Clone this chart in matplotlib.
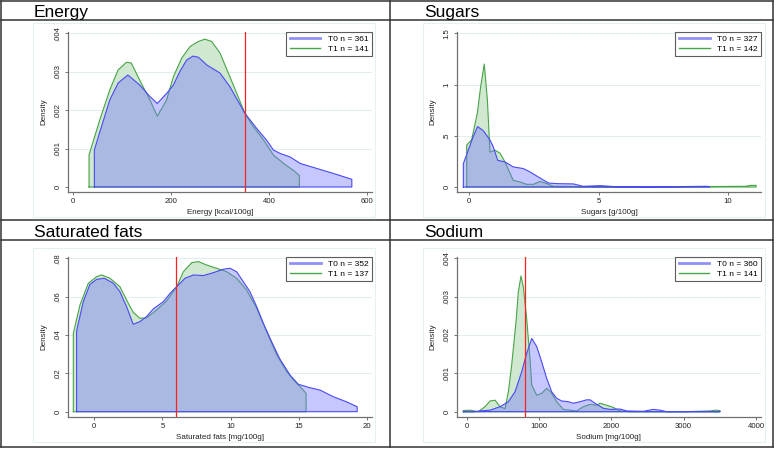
"""
Kernel density of nutrient content, T0 vs T1 -- four Stata-style panels.
"""

import numpy as np
import matplotlib.pyplot as plt
from matplotlib.lines import Line2D
from matplotlib.patches import Rectangle

plt.rcParams["font.family"] = ["Liberation Sans", "DejaVu Sans"]

# -- Data ----------------------------------------------------------------------
energy_t0_x = [43.6, 54, 75, 92, 112, 136, 157, 172, 191, 205, 218, 232, 245, 256,
               273, 300, 320, 351, 375, 395, 409, 423, 443, 464, 498, 532, 569]
energy_t0_y = [.00096, .0014, .00226, .0027, .00291, .00265, .00235, .00217, .00243,
               .00265, .0030, .0033, .0034, .00337, .00317, .00296, .00261, .00191,
               .00152, .00122, .00096, .00087, .00078, .00061, .00048, .00035, .0002]
energy_t1_x = [32.7, 54.5, 75, 92, 109, 119, 136, 157, 172, 191, 205, 222, 239, 256,
               269, 283, 300, 320, 341, 351, 368, 389, 409, 430, 450, 462]
energy_t1_y = [.00083, .00174, .00252, .00304, .00324, .00322, .00278, .00226, .00184,
               .00226, .00287, .00335, .00365, .00378, .00384, .00378, .00348, .00287,
               .00222, .00191, .00157, .00122, .00083, .00061, .00043, .0003]

sugars_t0_x = [-0.23, -0.04, 0.15, 0.32, 0.54, 0.8, 0.93, 1.1, 1.38, 1.7, 2.09, 2.35,
               2.67, 3.06, 3.38, 4.03, 4.4, 5.06, 5.7, 7.0, 9.2, 9.3]
sugars_t0_y = [0.228, 0.36, 0.49, 0.59, 0.55, 0.46, 0.39, 0.26, 0.245, 0.196, 0.18,
               0.147, 0.098, 0.039, 0.033, 0.03, 0.007, 0.013, 0.003, 0.001, 0.007, 0.002]
sugars_t1_x = [-0.1, 0.09, 0.31, 0.44, 0.58, 0.7, 0.8, 0.99, 1.19, 1.38, 1.7, 1.96,
               2.22, 2.48, 2.74, 3.0, 3.25, 5.0, 8.0, 10.7, 10.9, 11.1]
sugars_t1_y = [0.41, 0.46, 0.72, 0.98, 1.2, 0.85, 0.34, 0.36, 0.33, 0.245, 0.065,
               0.049, 0.026, 0.026, 0.055, 0.033, 0.007, 0.002, 0.002, 0.007, 0.016, 0.016]

satfat_t0_x = [-1.3, -0.81, -0.32, 0.17, 0.73, 1.4, 1.88, 2.37, 2.86, 3.35, 3.84, 4.33,
               5.07, 5.56, 6.05, 6.66, 7.27, 8.0, 8.74, 9.47, 9.96, 10.45, 10.94, 11.43,
               11.92, 12.41, 13.02, 13.6, 14.37, 14.98, 15.84, 16.57, 17.55, 18.5, 19.3]
satfat_t0_y = [.0421, .0574, .0664, .069, .0696, .067, .0626, .0548, .0456, .047, .0496,
               .0536, .0574, .0617, .0652, .0696, .0713, .071, .0725, .0743, .0748, .073,
               .0678, .0626, .0548, .0461, .0365, .0278, .0191, .0143, .0125, .0113,
               .0078, .0052, .0026]
satfat_t1_x = [-1.54, -1.05, -0.44, 0.17, 0.54, 1.15, 1.88, 2.5, 2.86, 3.35, 3.84, 4.57,
               5.3, 6.05, 6.54, 7.15, 7.64, 8.25, 8.98, 9.72, 10.45, 11.18, 11.92, 12.66,
               13.4, 14.13, 14.74, 15.23, 15.55]
satfat_t1_y = [.0409, .0557, .067, .0704, .0713, .0696, .0652, .0565, .0518, .0487, .049,
               .053, .0577, .0652, .073, .0777, .0783, .0765, .0748, .073, .0696, .0635,
               .054, .0417, .0296, .0209, .0157, .0122, .0096]

sodium_t0_x = [-46, 100, 184, 323, 461, 576, 668, 760, 829, 899, 968, 1037, 1106, 1175,
               1244, 1313, 1406, 1475, 1567, 1659, 1705, 1774, 1889, 1982, 2120, 2212,
               2442, 2581, 2673, 2765, 3000, 3502]
sodium_t0_y = [0, 0, .00002, .00004, .00013, .00026, .00052, .00104, .00152, .00191,
               .0017, .0013, .00087, .00052, .00035, .00028, .00026, .00022, .00026,
               .00031, .00031, .00022, .00009, .00006, .00007, .00002, .00001, .00006,
               .00004, 0, 0, 0]
sodium_t1_x = [-46, 46, 161, 253, 323, 392, 461, 530, 576, 622, 682, 714, 751, 783, 829,
               875, 899, 968, 1037, 1106, 1175, 1244, 1336, 1521, 1613, 1705, 1797,
               1843, 1936, 2028, 2120, 2258, 3000, 3364, 3433, 3502]
sodium_t1_y = [.00003, .00004, 0, .00013, .00028, .0003, .00013, .00008, .00052, .00122,
               .00235, .00313, .00354, .00326, .00243, .00139, .0007, .00043, .00048,
               .00061, .00048, .00026, .00006, .00002, .00013, .00019, .00017, .00022,
               .00017, .00011, .00002, 0, 0, .00002, .00004, .00003]

# -- Panel layout (pixels in a 780x451 canvas) ---------------------------------
W, H = 780, 451
PANELS = [
    dict(title="Energy", xlabel="Energy [kcal/100g]",
         t0=(energy_t0_x, energy_t0_y), t1=(energy_t1_x, energy_t1_y),
         n0=361, n1=141, cutoff=350,
         xticks=[0, 200, 400, 600], xlab=["0", "200", "400", "600"],
         yticks=[0, .001, .002, .003, .004], ylab=["0", ".001", ".002", ".003", ".004"],
         box=(68, 372, 32, 192), xref=((0, 73), (600, 367)), yref=((0, 187), (.004, 33)),
         frame=(33, 375, 23, 217), title_xy=(34, 17)),
    dict(title="Sugars", xlabel="Sugars [g/100g]",
         t0=(sugars_t0_x, sugars_t0_y), t1=(sugars_t1_x, sugars_t1_y),
         n0=327, n1=142, cutoff=None,
         xticks=[0, 5, 10], xlab=["0", "5", "10"],
         yticks=[0, .5, 1, 1.5], ylab=["0", ".5", "1", "1.5"],
         box=(457, 761, 32, 192), xref=((0, 469.3), (10, 727.7)), yref=((0, 187), (1.5, 33.3)),
         frame=(423, 765, 23, 217), title_xy=(424, 17)),
    dict(title="Saturated fats", xlabel="Saturated fats [mg/100g]",
         t0=(satfat_t0_x, satfat_t0_y), t1=(satfat_t1_x, satfat_t1_y),
         n0=352, n1=137, cutoff=6,
         xticks=[0, 5, 10, 15, 20], xlab=["0", "5", "10", "15", "20"],
         yticks=[0, .02, .04, .06, .08], ylab=["0", ".02", ".04", ".06", ".08"],
         box=(68, 372, 257, 417), xref=((0, 94.3), (20, 366.7)), yref=((0, 411.7), (.08, 258.3)),
         frame=(33, 375, 248, 442), title_xy=(34, 237)),
    dict(title="Sodium", xlabel="Sodium [mg/100g]",
         t0=(sodium_t0_x, sodium_t0_y), t1=(sodium_t1_x, sodium_t1_y),
         n0=360, n1=141, cutoff=800,
         xticks=[0, 1000, 2000, 3000, 4000], xlab=["0", "1000", "2000", "3000", "4000"],
         yticks=[0, .001, .002, .003, .004], ylab=["0", ".001", ".002", ".003", ".004"],
         box=(456.7, 761, 257, 417), xref=((0, 466.7), (4000, 756)), yref=((0, 411.7), (.004, 258.3)),
         frame=(423, 765, 248, 442), title_xy=(424, 237)),
]

T0_LINE, T0_FILL = "#4a4af2", (0.45, 0.45, 1.0, 0.40)
T1_LINE, T1_FILL = "#48a448", "#cfe8cf"
CUT_COLOR = "#ff2020"
BORDER = "#333333"
AXIS_C = "#707070"
GRID_C = "#e3edef"
TICK_FS = 5.6


def fx(x):
    return x / W


def fy(y):
    return 1 - y / H


def limits(ref, lo_px, hi_px, flip=False):
    (v0, p0), (v1, p1) = ref
    if flip:  # pixel y grows downward
        s = (p0 - p1) / (v1 - v0)
        return v0 - (lo_px - p0) / s, v0 + (p0 - hi_px) / s
    s = (p1 - p0) / (v1 - v0)
    return v0 + (lo_px - p0) / s, v0 + (hi_px - p0) / s


def draw_density(ax, x, y, face, edge, lw, z):
    x = np.asarray(x, float)
    y = np.asarray(y, float)
    px = np.r_[x[0], x, x[-1], x[0]]
    py = np.r_[0, y, 0, 0]
    ax.fill(px, py, facecolor=face, edgecolor="none", zorder=z)
    ax.plot(px, py, color=edge, lw=lw, zorder=z + 0.1, solid_joinstyle="round")


def plot_panel(fig, p):
    L, R, T, B = p["box"]
    ax = fig.add_axes([fx(L), fy(B), fx(R - L), (B - T) / H])
    ax.set_xlim(*limits(p["xref"], L, R))
    ax.set_ylim(*limits(p["yref"], B, T, flip=True))

    # T1 first, then T0 translucent on top (greens under blue look greyish)
    draw_density(ax, *p["t1"], T1_FILL, T1_LINE, 0.8, 2.0)
    draw_density(ax, *p["t0"], T0_FILL, T0_LINE, 0.8, 2.5)
    if p["cutoff"] is not None:
        ax.axvline(p["cutoff"], color=CUT_COLOR, lw=0.9, zorder=3)

    ax.set_xticks(p["xticks"])
    ax.set_xticklabels(p["xlab"], fontsize=TICK_FS)
    ax.set_yticks(p["yticks"])
    ax.set_yticklabels(p["ylab"], fontsize=TICK_FS, rotation=90, va="center")
    for g in p["yticks"][1:]:
        ax.axhline(g, color=GRID_C, lw=0.8, zorder=1)

    for side in ("top", "right"):
        ax.spines[side].set_visible(False)
    for side in ("left", "bottom"):
        ax.spines[side].set_color(AXIS_C)
        ax.spines[side].set_linewidth(0.9)
    ax.tick_params(direction="out", length=2.5, width=0.7, color=AXIS_C,
                   pad=2, labelcolor="#222222")
    ax.set_xlabel(p["xlabel"], fontsize=5.8, labelpad=3, color="#222222")
    ax.set_ylabel("Density", fontsize=5.8, labelpad=5, color="#222222")
    ax.patch.set_alpha(0)

    handles = [Line2D([], [], color="#8f8ff4", lw=2.0),
               Line2D([], [], color=T1_LINE, lw=1.0)]
    leg = ax.legend(handles, [f"T0 n = {p['n0']}", f"T1 n = {p['n1']}"],
                    loc="upper right", bbox_to_anchor=(1.0, 1.0), borderaxespad=0,
                    fontsize=6, frameon=True, fancybox=False, handlelength=3.7,
                    handletextpad=0.9, labelspacing=0.25, borderpad=0.4)
    leg.get_frame().set_edgecolor(BORDER)
    leg.get_frame().set_linewidth(0.8)
    leg.set_zorder(5)

    # faint plot-region frame and big title
    x0, x1, y0, y1 = p["frame"]
    fig.add_artist(Rectangle((fx(x0), fy(y1)), fx(x1 - x0), (y1 - y0) / H,
                             transform=fig.transFigure, fill=False,
                             edgecolor="#e6f0f0", lw=0.8, zorder=0))
    tx, ty = p["title_xy"]
    fig.text(fx(tx), fy(ty), p["title"], fontsize=12.5, ha="left", va="baseline")


def main():
    fig = plt.figure(figsize=(W / 100, H / 100), dpi=100)
    for p in PANELS:
        plot_panel(fig, p)

    # Graph-combine borders
    def hline(y, x0=0.5, x1=773):
        fig.add_artist(Line2D([fx(x0), fx(x1)], [fy(y), fy(y)], color=BORDER,
                              lw=1.1, transform=fig.transFigure))

    def vline(x, y0=0.5, y1=447):
        fig.add_artist(Line2D([fx(x), fx(x)], [fy(y0), fy(y1)], color=BORDER,
                              lw=1.1, transform=fig.transFigure))

    for y in (0.5, 20, 220, 240, 447):
        hline(y)
    for x in (0.5, 390, 773):
        vline(x)

    fig.savefig("out.png", dpi=100)


if __name__ == "__main__":
    main()
